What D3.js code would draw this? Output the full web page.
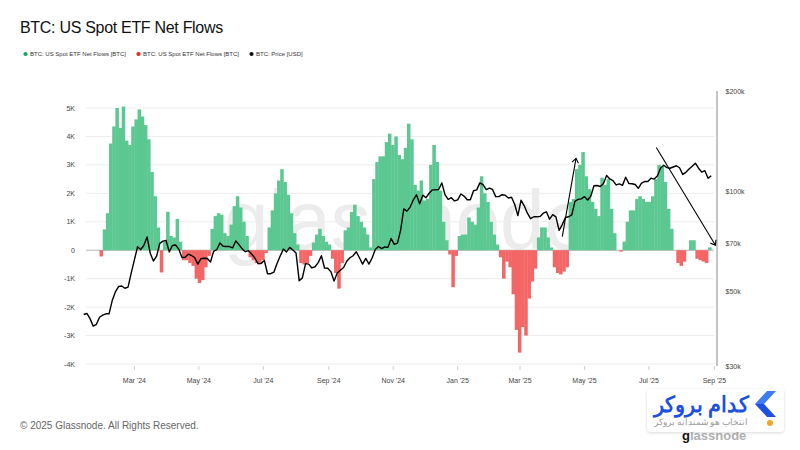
<!DOCTYPE html>
<html>
<head>
<meta charset="utf-8">
<script src="https://cdn.jsdelivr.net/npm/d3@7"></script>
<style>
  body { margin: 0; background: #fff; }
  svg text { font-family: "Liberation Sans", Arial, sans-serif; }
</style>
</head>
<body>
<svg id="chart" width="800" height="450"></svg>
<script>
// ---- data (3-day steps from the first day) ----
const startDate = "2024-01-13";
const stepDays = 3;

// net flows, thousands of BTC
const netFlowsK = [
  0, 0, 0, 0, 0, -0.22, 0.73, 1.3, 3.75, 4.35,
  5.0, 4.3, 5.05, 3.85, 3.7, 4.35, 4.6, 4.95, 4.7, 4.4,
  3.9, 2.75, 1.9, 0.8, -0.78, 0.3, 1.35, 0.5, 0.45, 1.1,
  0.3, -0.35, -0.35, -0.45, -0.55, -1.0, -1.15, -1.05, -0.6, -0.2,
  0.75, 1.2, 1.3, 1.25, 0.6, 0.5, 0.9, 1.55, 1.9, 1.5,
  1.0, 0.5, -0.25, -0.35, -0.45, -0.5, -0.35, -0.1, 0.8, 1.4,
  2.0, 2.45, 2.85, 2.4, 1.95, 1.3, 0.6, 0.2, -0.45, -0.5,
  -0.45, -0.2, 0.27, 0.55, 0.75, 0.5, 0.3, 0.2, -0.3, -0.8,
  -1.35, -0.45, 0.7, 0.8, 1.35, 1.6, 1.2, 1.0, 0.8, 0.55,
  0.1, 2.5, 3.1, 3.3, 3.3, 3.8, 4.1, 3.7, 4.0, 3.35,
  3.2, 3.6, 4.45, 3.9, 2.3, 2.1, 2.45, 1.75, 1.8, 3.0,
  3.7, 3.1, 2.1, 1.0, 0.35, -0.15, -1.3, -0.2, 0.5, 0.55,
  0.55, 1.15, 1.0, 0.9, 1.5, 2.6, 2.0, 1.7, 1.0, 0.55,
  0.2, -0.25, -1.0, -0.4, -0.6, -1.55, -2.8, -3.6, -2.7, -3.0,
  -1.7, -1.1, -0.65, 0.45, 0.8, 0.8, 0.45, 0.1, -0.6, -0.8,
  -0.85, -0.75, -0.6, 1.7, 1.8, 2.85, 3.0, 3.45, 2.6, 2.15,
  1.7, 1.45, 1.2, 2.55, 2.3, 2.5, 1.45, 0.6, 0, -0.05,
  0.3, 1.0, 1.4, 1.4, 1.8, 1.9, 1.8, 1.7, 1.7, 1.9,
  2.5, 3.0, 2.95, 2.4, 1.45, 0.75, 0, -0.45, -0.55, -0.4,
  0, 0.35, 0.35, -0.3, -0.35, -0.4, -0.45, 0.1
];

// BTC price, thousands of USD
const priceUsdK = [
  42.8, 43.1, 41.6, 39.5, 40.0, 42.0, 42.6, 43.0, 43.0, 47.1,
  50.0, 51.9, 52.1, 51.3, 51.7, 57.0, 62.4, 68.3, 67.0, 69.0,
  73.1, 65.3, 61.9, 64.0, 69.9, 71.0, 71.3, 65.9, 68.9, 69.1,
  67.2, 63.4, 63.5, 64.9, 64.3, 63.4, 60.6, 62.9, 63.1, 63.0,
  61.5, 66.2, 67.0, 70.1, 68.5, 68.4, 68.4, 67.8, 71.1, 69.3,
  67.3, 66.0, 66.5, 64.9, 63.2, 60.8, 60.9, 62.1, 56.7, 56.7,
  57.3, 60.8, 64.1, 67.2, 65.9, 68.0, 66.8, 65.4, 54.0, 55.1,
  60.8, 60.6, 59.0, 59.5, 61.2, 64.2, 59.0, 58.9, 57.5, 53.9,
  57.0, 58.1, 59.2, 61.8, 63.3, 64.2, 66.0, 63.3, 60.6, 63.0,
  60.6, 63.2, 67.0, 68.4, 67.4, 68.2, 68.0, 72.3, 69.4, 70.0,
  76.6, 88.7, 87.3, 89.8, 94.3, 97.7, 91.9, 97.5, 95.8, 98.8,
  101.1, 101.2, 101.4, 106.1, 97.8, 94.7, 95.8, 93.7, 94.4, 98.3,
  96.9, 94.5, 94.5, 100.5, 101.1, 106.1, 104.8, 101.3, 102.4, 101.4,
  96.5, 96.5, 97.8, 97.5, 95.6, 96.1, 91.4, 84.7, 94.2, 90.6,
  86.1, 82.9, 84.0, 84.0, 84.2, 86.1, 86.9, 82.6, 85.2, 83.9,
  76.5, 79.6, 83.6, 84.0, 85.1, 93.4, 94.7, 95.0, 96.5, 94.3,
  96.8, 104.0, 104.2, 103.5, 105.6, 111.7, 109.0, 107.8, 104.6, 105.4,
  104.3, 110.3, 105.7, 105.5, 104.9, 102.2, 106.0, 107.1, 107.1, 109.6,
  108.9, 111.3, 117.4, 119.8, 117.9, 117.4, 118.4, 119.4, 117.8, 112.5,
  114.1, 116.7, 119.0, 121.5, 117.4, 114.3, 115.4, 109.5, 111.5
];

const flowTicks = [-4000, -3000, -2000, -1000, 0, 1000, 2000, 3000, 4000, 5000];
const priceTicks = [30000, 50000, 70000, 100000, 200000];
const monthTicks = ["2024-03-01", "2024-05-01", "2024-07-01", "2024-09-01", "2024-11-01",
  "2025-01-01", "2025-03-01", "2025-05-01", "2025-07-01", "2025-09-01"];

const legendItems = [
  { label: "BTC: US Spot ETF Net Flows [BTC]", color: "#14a85a" },
  { label: "BTC: US Spot ETF Net Flows [BTC]", color: "#e8261c" },
  { label: "BTC: Price [USD]", color: "#111" }
];

// hand drawn arrows on the chart: [date, price]
const arrows = [
  { from: ["2025-04-10", 73200], to: ["2025-04-23", 125700] },
  { from: ["2025-07-08", 135500], to: ["2025-09-02", 69000] }
];

// ---- layout ----
const parse = d3.utcParse("%Y-%m-%d");
const start = parse(startDate);
const flowDates = netFlowsK.map((_, i) => d3.utcDay.offset(start, i * stepDays));
const priceDates = priceUsdK.map((_, i) => d3.utcDay.offset(start, i * stepDays));

const plotLeft = 86, plotRight = 716, plotTop = 91, plotBottom = 366;

const x = d3.scaleUtc()
  .domain([parse("2024-03-01"), parse("2025-09-01")])
  .range([134.4, 714.4]);
const yFlow = d3.scaleLinear().domain([-4000, 5000]).range([364, 108]);
const yPrice = d3.scaleLog().domain([30000, 200000]).range([366, 91]);

const svg = d3.select("#chart");

// title + legend
svg.append("text")
  .attr("x", 20).attr("y", 32.5)
  .attr("font-size", 16)
  .attr("letter-spacing", -0.3)
  .attr("fill", "#111")
  .text("BTC: US Spot ETF Net Flows");

const legendX = [25.5, 138.5, 251.5];
legendItems.forEach((d, i) => {
  svg.append("circle").attr("cx", legendX[i]).attr("cy", 54).attr("r", 2.1).attr("fill", d.color);
  svg.append("text")
    .attr("x", legendX[i] + 4.5).attr("y", 56.2)
    .attr("font-size", 6.0).attr("fill", "#333")
    .text(d.label);
});

// grid
const grid = svg.append("g");
grid.selectAll("line")
  .data(flowTicks.filter(d => d !== 0))
  .join("line")
  .attr("x1", plotLeft).attr("x2", plotRight - 2)
  .attr("y1", d => yFlow(d)).attr("y2", d => yFlow(d))
  .attr("stroke", "#ededed").attr("stroke-width", 1);

// watermark
svg.append("text")
  .attr("x", 224).attr("y", 249)
  .attr("font-size", 84)
  .attr("font-family", "'DejaVu Sans', sans-serif")
  .attr("textLength", 365)
  .attr("lengthAdjust", "spacingAndGlyphs")
  .attr("fill", "#ececec")
  .text("glassnode");

// zero line
svg.append("line")
  .attr("x1", plotLeft).attr("x2", plotRight - 2)
  .attr("y1", yFlow(0)).attr("y2", yFlow(0))
  .attr("stroke", "#b5b5b5").attr("stroke-width", 1);

// flow bars
const stepW = x(d3.utcDay.offset(start, stepDays)) - x(start);
svg.append("g")
  .selectAll("rect")
  .data(netFlowsK.map((v, i) => ({ date: flowDates[i], v: v * 1000 })).filter(d => d.v !== 0))
  .join("rect")
  .attr("x", d => x(d.date))
  .attr("width", stepW + 0.35)
  .attr("y", d => Math.min(yFlow(d.v), yFlow(0)))
  .attr("height", d => Math.abs(yFlow(d.v) - yFlow(0)))
  .attr("fill", d => d.v > 0 ? "#5cc891" : "#f46666");

// price line
const line = d3.line()
  .x(d => x(d.date))
  .y(d => yPrice(d.p));
svg.append("path")
  .datum(priceUsdK.map((p, i) => ({ date: priceDates[i], p: p * 1000 })))
  .attr("d", line)
  .attr("fill", "none")
  .attr("stroke", "#000")
  .attr("stroke-width", 1.4)
  .attr("stroke-linejoin", "round");

// left axis labels
svg.append("g")
  .selectAll("text")
  .data(flowTicks)
  .join("text")
  .attr("x", 75).attr("y", d => yFlow(d) + 2.5)
  .attr("text-anchor", "end")
  .attr("font-size", 7).attr("fill", "#444")
  .text(d => d === 0 ? "0" : (d / 1000) + "K");

// right axis
svg.append("line")
  .attr("x1", 717).attr("x2", 717)
  .attr("y1", plotTop).attr("y2", plotBottom)
  .attr("stroke", "#8a8a8a").attr("stroke-width", 1);
svg.append("g")
  .selectAll("text")
  .data(priceTicks)
  .join("text")
  .attr("x", 725.5).attr("y", d => yPrice(d) + 2.5)
  .attr("font-size", 7).attr("fill", "#444")
  .text(d => "$" + (d / 1000) + "k");

// bottom axis
const fmtMonth = d3.utcFormat("%b '%y");
const bottom = svg.append("g");
bottom.selectAll("line")
  .data(monthTicks.map(parse))
  .join("line")
  .attr("x1", d => x(d)).attr("x2", d => x(d))
  .attr("y1", 366).attr("y2", 370)
  .attr("stroke", "#d0d0d0");
bottom.selectAll("text")
  .data(monthTicks.map(parse))
  .join("text")
  .attr("x", d => x(d)).attr("y", 383)
  .attr("text-anchor", "middle")
  .attr("font-size", 7).attr("fill", "#444")
  .text(d => fmtMonth(d));

// arrows
arrows.forEach(a => {
  const x1 = x(parse(a.from[0])), y1 = yPrice(a.from[1]);
  const x2 = x(parse(a.to[0])), y2 = yPrice(a.to[1]);
  const ang = Math.atan2(y2 - y1, x2 - x1);
  const head = 5.5;
  const g = svg.append("g").attr("stroke", "#000").attr("stroke-width", 1.1).attr("fill", "none");
  g.append("line").attr("x1", x1).attr("y1", y1).attr("x2", x2).attr("y2", y2);
  g.append("path").attr("d",
    `M${x2 + head * Math.cos(ang + Math.PI * 0.8)},${y2 + head * Math.sin(ang + Math.PI * 0.8)}` +
    `L${x2},${y2}` +
    `L${x2 + head * Math.cos(ang - Math.PI * 0.8)},${y2 + head * Math.sin(ang - Math.PI * 0.8)}`);
});

// footer
svg.append("text")
  .attr("x", 20).attr("y", 429)
  .attr("font-size", 10).attr("fill", "#666")
  .text("\u00a9 2025 Glassnode. All Rights Reserved.");

// glassnode logo peeking under the broker badge
const logo = svg.append("text")
  .attr("x", 682).attr("y", 440)
  .attr("font-size", 13).attr("font-weight", "bold")
  .attr("font-family", "'DejaVu Sans', sans-serif");
logo.append("tspan").attr("fill", "#111").text("g");
logo.append("tspan").attr("fill", "#b0b0b0").text("lassnode");

// broker badge
const defs = svg.append("defs");
const f = defs.append("filter").attr("id", "sh").attr("x", "-10%").attr("y", "-20%").attr("width", "120%").attr("height", "150%");
f.append("feDropShadow").attr("dx", 0).attr("dy", 1).attr("stdDeviation", 1.5).attr("flood-color", "#000").attr("flood-opacity", 0.15);

const badge = svg.append("g");
badge.append("rect")
  .attr("x", 647).attr("y", 389).attr("width", 137).attr("height", 43).attr("rx", 4)
  .attr("fill", "#fff").attr("filter", "url(#sh)");
badge.append("text")
  .attr("x", 748).attr("y", 411.5)
  .attr("text-anchor", "end")
  .attr("font-family", "'DejaVu Sans', sans-serif")
  .attr("font-weight", "bold").attr("font-size", 22)
  .attr("textLength", 94)
  .attr("lengthAdjust", "spacingAndGlyphs")
  .attr("fill", "#1d4fe0")
  .text("کدام بروکر");
badge.append("text")
  .attr("x", 748).attr("y", 425)
  .attr("text-anchor", "end")
  .attr("font-family", "'DejaVu Sans', sans-serif")
  .attr("font-size", 8.5)
  .attr("textLength", 94)
  .attr("lengthAdjust", "spacingAndGlyphs")
  .attr("fill", "#9a9a9a")
  .text("انتخاب هوشمندانه بروکر");
badge.append("path").attr("d", "M767,391 L776,391 L764,404 L755,404 Z").attr("fill", "#3d7cf2");
badge.append("path").attr("d", "M755,404 L764,404 L776,417 L767,417 Z").attr("fill", "#1d4fe0");
badge.append("circle").attr("cx", 770).attr("cy", 423).attr("r", 3).attr("fill", "#f5a524");
</script>
</body>
</html>
